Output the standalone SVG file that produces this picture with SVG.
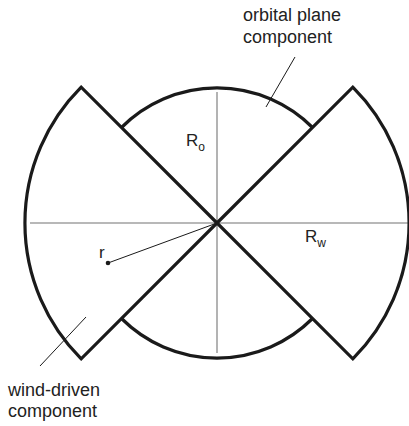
<svg xmlns="http://www.w3.org/2000/svg" width="409" height="426" viewBox="0 0 409 426">
<style>
.bg{fill:#fff}
.thick{fill:none;stroke:#1a1a1a;stroke-width:3.2;stroke-linejoin:miter}
.axis{fill:none;stroke:#a0a0a0;stroke-width:1.6}
.thin{fill:none;stroke:#1a1a1a;stroke-width:1}
.lbl{font-family:"Liberation Sans",Arial,sans-serif;fill:#222}
.big{font-size:18px}
.sym{font-size:17px}
.sub{font-size:12px}
</style>
<rect class="bg" width="409" height="426"/>
<g id="axes">
<line class="axis" x1="217" y1="92" x2="217" y2="353"/>
<line class="axis" x1="30" y1="223" x2="409" y2="223"/>
</g>
<g id="wind-driven">
<path class="thick" d="M217 223 L81.2 87.2 A192 192 0 0 0 81.2 358.8 Z"/>
<path class="thick" d="M217 223 L352.8 87.2 A192 192 0 0 1 352.8 358.8 Z"/>
</g>
<g id="orbital">
<path class="thick" d="M121.5 127.5 A135 135 0 0 1 312.5 127.5"/>
<path class="thick" d="M121.5 318.5 A135 135 0 0 0 312.5 318.5"/>
</g>
<g id="connectors">
<line class="thin" x1="108" y1="263" x2="217" y2="223"/>
<circle cx="108" cy="263" r="2.3" fill="#1a1a1a"/>
<line class="thin" x1="295" y1="57" x2="266" y2="107"/>
<line class="thin" x1="86" y1="317" x2="40" y2="366"/>
</g>
<g id="labels">
<text class="lbl big" x="243" y="21">orbital plane</text>
<text class="lbl big" x="243" y="43">component</text>
<text class="lbl big" x="8" y="396">wind-driven</text>
<text class="lbl big" x="8" y="417">component</text>
<text class="lbl sym" x="186" y="146">R<tspan class="sub" dy="5">o</tspan></text>
<text class="lbl sym" x="305" y="242">R<tspan class="sub" dy="5">w</tspan></text>
<text class="lbl sym" x="99" y="258">r</text>
</g>
</svg>
